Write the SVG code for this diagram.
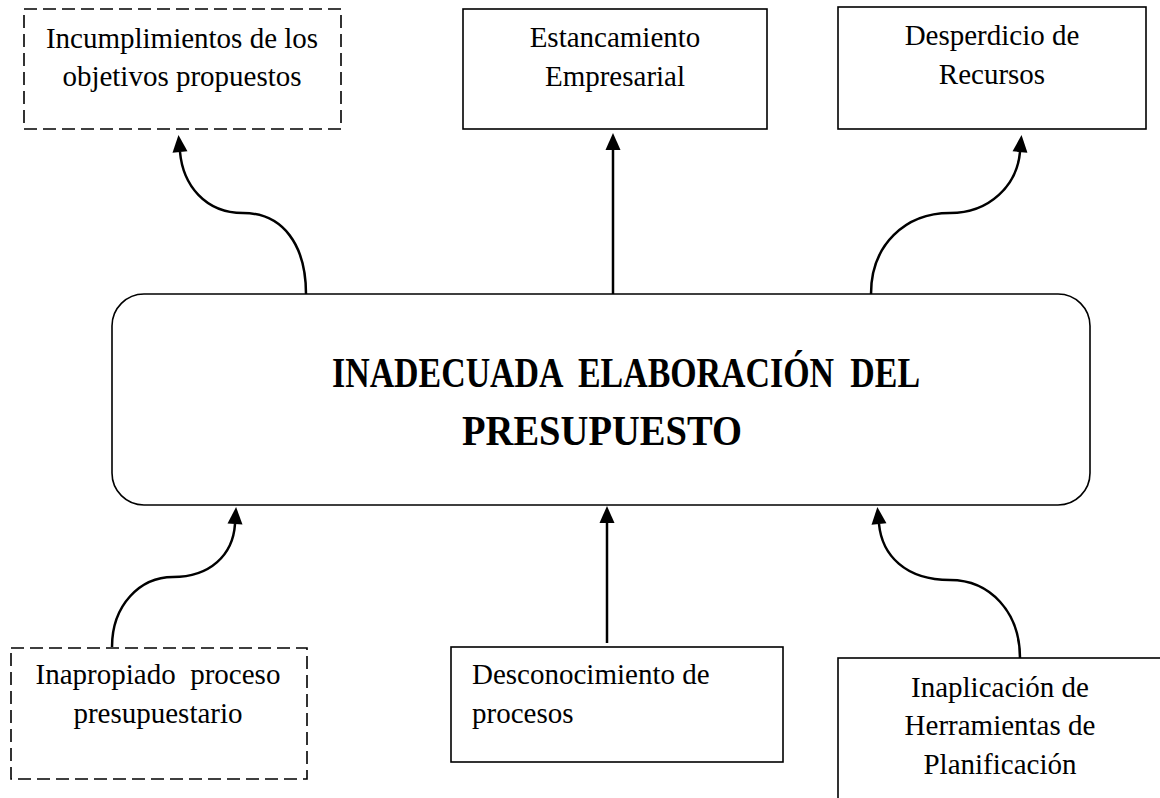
<svg xmlns="http://www.w3.org/2000/svg" width="1160" height="798" viewBox="0 0 1160 798">
  <style>
    .box { fill: #ffffff; stroke: #000000; stroke-width: 1.6; }
    .dashed { stroke-dasharray: 13 6; }
    .lbl { font-family: "Liberation Serif", "Times New Roman", serif; font-size: 29px; fill: #000000; }
    .title { font-family: "Liberation Serif", "Times New Roman", serif; font-size: 43px; font-weight: bold; fill: #000000; }
    .conn { fill: none; stroke: #000000; stroke-width: 2.5; marker-end: url(#arrow); }
  </style>
  <defs>
    <marker id="arrow" markerUnits="userSpaceOnUse" markerWidth="18" markerHeight="16" refX="0" refY="7.5" orient="auto" overflow="visible">
      <path d="M0,0 L17,7.5 L0,15 Z" fill="#000000"/>
    </marker>
  </defs>
  <rect width="1160" height="798" fill="#ffffff"/>

  <g id="connectors">
    <path class="conn" d="M306,294 C306,245 283,213 243,213 C205,213 183,185 180,152"/>
    <path class="conn" d="M613,294 L613,150"/>
    <path class="conn" d="M871,294 C871,245 905,213 950,213 C990,213 1017,185 1020,152"/>
    <path class="conn" d="M112,647 C112,605 140,577 173,577 C210,577 233,555 235,524"/>
    <path class="conn" d="M607,643 L607,523"/>
    <path class="conn" d="M1020,658 C1020,612 990,580 950,580 C905,580 882,555 879,524"/>
  </g>

  <g id="center">
    <rect class="box" x="112" y="294" width="978" height="211" rx="32" ry="32"/>
    <text class="title" x="332" y="387" word-spacing="10" textLength="588" lengthAdjust="spacingAndGlyphs">INADECUADA ELABORACIÓN DEL</text>
    <text class="title" x="462" y="445" textLength="280" lengthAdjust="spacingAndGlyphs">PRESUPUESTO</text>
  </g>

  <g id="incumplimientos">
    <rect class="box dashed" x="24" y="9" width="317" height="120"/>
    <text class="lbl" x="182" y="48" text-anchor="middle">Incumplimientos de los</text>
    <text class="lbl" x="182" y="86" text-anchor="middle">objetivos propuestos</text>
  </g>

  <g id="estancamiento">
    <rect class="box" x="463" y="9" width="304" height="120"/>
    <text class="lbl" x="615" y="47" text-anchor="middle">Estancamiento</text>
    <text class="lbl" x="615" y="86" text-anchor="middle">Empresarial</text>
  </g>

  <g id="desperdicio">
    <rect class="box" x="838" y="7" width="308" height="122"/>
    <text class="lbl" x="992" y="45" text-anchor="middle">Desperdicio de</text>
    <text class="lbl" x="992" y="84" text-anchor="middle">Recursos</text>
  </g>

  <g id="inapropiado">
    <rect class="box dashed" x="11" y="648" width="296" height="131"/>
    <text class="lbl" x="158" y="684" text-anchor="middle" xml:space="preserve">Inapropiado  proceso</text>
    <text class="lbl" x="158" y="723" text-anchor="middle">presupuestario</text>
  </g>

  <g id="desconocimiento">
    <rect class="box" x="451" y="647" width="332" height="115"/>
    <text class="lbl" x="472" y="684">Desconocimiento de</text>
    <text class="lbl" x="472" y="723">procesos</text>
  </g>

  <g id="inaplicacion">
    <rect class="box" x="838" y="658" width="340" height="160"/>
    <text class="lbl" x="1000" y="697" text-anchor="middle">Inaplicación de</text>
    <text class="lbl" x="1000" y="735" text-anchor="middle">Herramientas de</text>
    <text class="lbl" x="1000" y="774" text-anchor="middle">Planificación</text>
  </g>
</svg>
